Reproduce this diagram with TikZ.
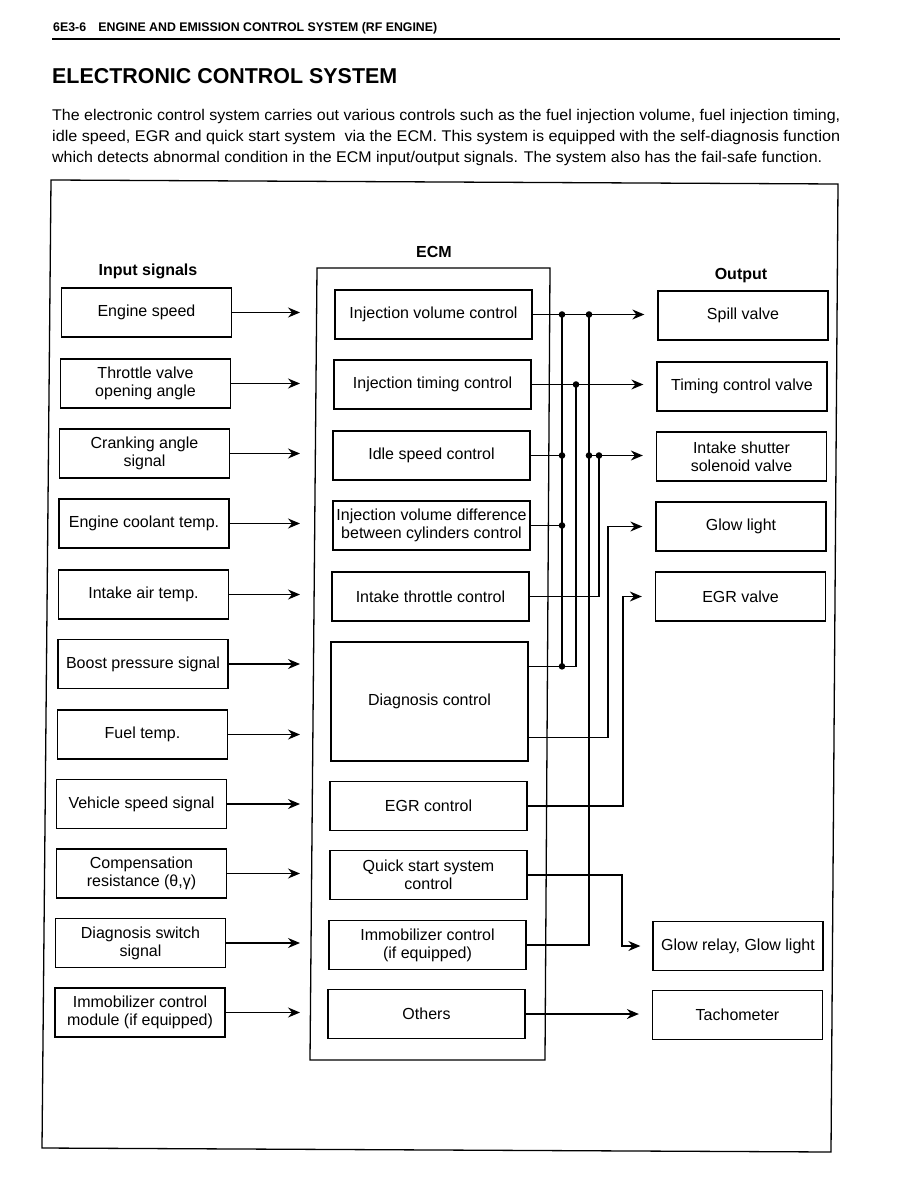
\documentclass[tikz,border=0pt]{standalone}
\usepackage{fontspec}
\setmainfont{Liberation Sans}
\usetikzlibrary{arrows.meta,calc}
\begin{document}
\begin{tikzpicture}[x=1pt,y=-1pt,
  box/.style={draw, line width=1.3pt, align=center, inner sep=0pt, font=\fontsize{16}{18}\selectfont},
  inbox/.style={box, minimum width=170pt, minimum height=49pt},
  ecmbox/.style={box, minimum width=197pt, minimum height=49pt},
  outbox/.style={box, minimum width=170pt, minimum height=49pt},
  wire/.style={line width=1.3pt},
  arr/.style={wire, -{Stealth[length=12pt,width=10pt,inset=4pt]}},
  lbl/.style={font=\bfseries\fontsize{16}{18}\selectfont},
  para/.style={anchor=west, inner sep=0pt, font=\fontsize{15.5}{18}\selectfont}
]
\fill[white] (0,0) rectangle (918,1188);
\useasboundingbox (0,0) rectangle (918,1188);

% header
\node[anchor=west, inner sep=0pt, font=\bfseries\fontsize{12.5}{14}\selectfont] (hdr) at (53,28)
  {\resizebox{384pt}{\height}{6E3-6\quad ENGINE AND EMISSION CONTROL SYSTEM (RF ENGINE)}};
\draw[line width=2.5pt] (52,39) -- (840,39);
\node[anchor=west, inner sep=0pt, font=\bfseries\fontsize{21.5}{24}\selectfont] (ttl) at (52,76)
  {\resizebox{345pt}{\height}{ELECTRONIC CONTROL SYSTEM}};
\node[para] (p1) at (52,116) {\resizebox{788pt}{\height}{The electronic control system carries out various controls such as the fuel injection volume, fuel injection timing,}};
\node[para] (p2) at (52,137) {\resizebox{788pt}{\height}{idle speed, EGR and quick start system\ \ via the ECM. This system is equipped with the self-diagnosis function}};
\node[para] (p3) at (52,158) {\resizebox{770pt}{\height}{which detects abnormal condition in the ECM input/output signals. The system also has the fail-safe function.}};

% frame
\draw[line width=1.3pt] (51,180) -- (838,184) -- (831,1152) -- (42,1148) -- cycle;

% ECM outer box
\draw[line width=1.3pt] (317,268) -- (550,268) -- (545,1060) -- (310,1060) -- cycle;

% labels
\node[lbl] (lin) at (148,271) {Input signals};
\node[lbl] (lecm) at (434,252) {ECM};
\node[lbl] (lout) at (741,276) {Output};

% input boxes
\node[inbox] (in1) at (146.5,312.5) {Engine speed};
\node[inbox] (in2) at (145.5,383.5) {Throttle valve\\opening angle};
\node[inbox] (in3) at (144.5,453.5) {Cranking angle\\signal};
\node[inbox] (in4) at (144,523.5) {Engine coolant temp.};
\node[inbox] (in5) at (143.5,594.5) {Intake air temp.};
\node[inbox] (in6) at (143,664) {Boost pressure signal};
\node[inbox] (in7) at (142.5,734.5) {Fuel temp.};
\node[inbox] (in8) at (141.5,804) {Vehicle speed signal};
\node[inbox] (in9) at (141.5,873.5) {Compensation\\resistance (θ,γ)};
\node[inbox] (in10) at (140.5,943) {Diagnosis switch\\signal};
\node[inbox] (in11) at (140,1012.5) {Immobilizer control\\module (if equipped)};

% ECM boxes
\node[ecmbox] (e1) at (433.5,314.5) {Injection volume control};
\node[ecmbox] (e2) at (432.5,384.5) {Injection timing control};
\node[ecmbox] (e3) at (431.5,455.5) {Idle speed control};
\node[ecmbox] (e4) at (431.5,525.5) {Injection volume difference\\between cylinders control};
\node[ecmbox] (e5) at (430.5,596.5) {Intake throttle control};
\node[ecmbox, minimum height=119pt] (e6) at (429.5,701.5) {Diagnosis control};
\node[ecmbox] (e7) at (428.5,806) {EGR control};
\node[ecmbox] (e8) at (428.5,875) {Quick start system\\control};
\node[ecmbox] (e9) at (427.5,945) {Immobilizer control\\(if equipped)};
\node[ecmbox] (e10) at (426.5,1014) {Others};

% output boxes
\node[outbox] (o1) at (743,315.5) {Spill valve};
\node[outbox] (o2) at (742,386.5) {Timing control valve};
\node[outbox] (o3) at (741.5,456.5) {Intake shutter\\solenoid valve};
\node[outbox] (o4) at (741,526.5) {Glow light};
\node[outbox] (o5) at (740.5,596.5) {EGR valve};
\node[outbox] (o6) at (738,946) {Glow relay, Glow light};
\node[outbox] (o7) at (737.5,1015) {Tachometer};

% input arrows
\coordinate (intip) at (300,0);
\foreach \i in {1,...,11}{
  \draw[arr] (in\i.east) -- (in\i.east -| intip);
}

% bus x positions
\coordinate (bA) at (562,0);
\coordinate (bB) at (576,0);
\coordinate (bC) at (589,0);
\coordinate (bD) at (599,0);
\coordinate (bE) at (608,0);
\coordinate (bF) at (623,0);
\coordinate (bG) at (622,0);
\coordinate (dg1) at ($(e6.north east)+(0,25)$);
\coordinate (dg2) at ($(e6.south east)+(0,-24)$);

% wires
\draw[arr, shorten >=13pt] (e1.east) -- (e1.east -| o1.west);
\draw[arr, shorten >=13pt] (e2.east) -- (e2.east -| o2.west);
\draw[wire] (e3.east) -- (e3.east -| bA);
\draw[arr, shorten >=13pt] (e3.east -| bC) -- (e3.east -| o3.west);
\draw[wire] (e4.east) -- (e4.east -| bA);
\draw[wire] (e1.east -| bA) -- (dg1 -| bA);
\draw[wire] (dg1) -- (dg1 -| bB) -- (e2.east -| bB);
\draw[wire] (e5.east) -- (e5.east -| bD) -- (e3.east -| bD);
\draw[arr, shorten >=13pt] (dg2) -- (dg2 -| bE) -- (o4.west -| bE) -- (o4.west);
\draw[arr, shorten >=13pt] (e7.east) -- (e7.east -| bF) -- (o5.west -| bF) -- (o5.west);
\draw[wire] (e1.east -| bC) -- (e9.east -| bC) -- (e9.east);
\draw[arr, shorten >=12pt] (e8.east) -- (e8.east -| bG) -- (o6.west -| bG) -- (o6.west);
\draw[arr, shorten >=13pt] (e10.east) -- (e10.east -| o7.west);

% junction dots
\foreach \p in {e1.east -| bA, e1.east -| bC, e2.east -| bB, e3.east -| bA,
                e3.east -| bC, e3.east -| bD, e4.east -| bA, dg1 -| bA}{
  \fill (\p) circle (3.3pt);
}
\end{tikzpicture}
\end{document}
